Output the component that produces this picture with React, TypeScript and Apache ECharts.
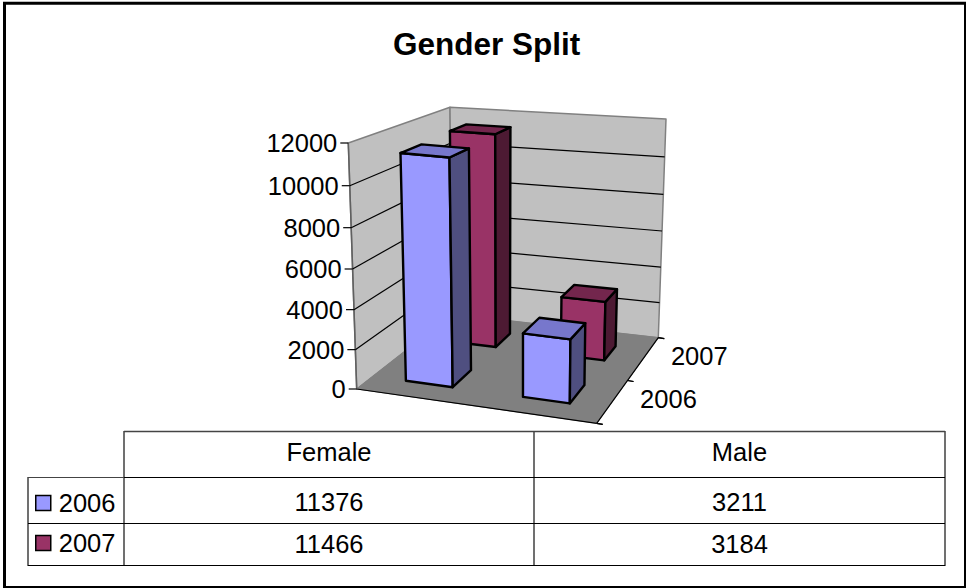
import React, { useEffect, useRef } from "react";
import * as echarts from "echarts";

const categories = ["Female", "Male"];
const years = ["2006", "2007"];
const values2006 = [11376, 3211];
const values2007 = [11466, 3184];
const axisTicks = [0, 2000, 4000, 6000, 8000, 10000, 12000];
const AXIS_MAX = 12000;

type Pt = [number, number];
const FLOOR = { fl: [356.7, 389] as Pt, fr: [596.7, 423.3] as Pt, bl: [452, 314.5] as Pt, br: [658.3, 337.7] as Pt };
const TOP = { fl: [348.3, 143] as Pt, fr: [600, 167] as Pt, bl: [450, 107.3] as Pt, br: [666, 119] as Pt };
const GRID = { left: 100, top: 100, width: 400, height: 240 };
const DEPTH: Record<string, [number, number]> = { "2006": [0.172, 0.39], "2007": [0.685, 0.855] };
const BAR_HALF = 0.1;
const U_SHIFT = -0.01;
const PERSPECTIVE = 1.05;

const COLORS: Record<string, { front: string; side: string; top: string }> = {
  "2006": { front: "#9999FF", side: "#4F4F80", top: "#7777CC" },
  "2007": { front: "#993366", side: "#4D1A33", top: "#73264D" },
};
const FONT = "'Liberation Sans', Arial, sans-serif";
const LABEL_FONT = `25.5px ${FONT}`;

const bil = (q: typeof FLOOR, u: number, v: number): Pt => [
  (1 - u) * (1 - v) * q.fl[0] + u * (1 - v) * q.fr[0] + (1 - u) * v * q.bl[0] + u * v * q.br[0],
  (1 - u) * (1 - v) * q.fl[1] + u * (1 - v) * q.fr[1] + (1 - u) * v * q.bl[1] + u * v * q.br[1],
];
const proj = (u: number, v: number, t: number): Pt => {
  const a = bil(FLOOR, u, v);
  const b = bil(TOP, u, v);
  return [a[0] + (b[0] - a[0]) * t, a[1] + (b[1] - a[1]) * t];
};
const fracOfValue = (api: any, val: number) => {
  const y = api.coord([0, val])[1];
  const t = (GRID.top + GRID.height - y) / GRID.height;
  return t / (t + (1 - t) * PERSPECTIVE);
};

const poly = (points: Pt[], fill: string, stroke: string, lineWidth: number) => ({
  type: "polygon",
  shape: { points },
  style: { fill, stroke, lineWidth, lineJoin: "round" },
});
const seg = (a: Pt, b: Pt, stroke: string, lineWidth: number) => ({
  type: "line",
  shape: { x1: a[0], y1: a[1], x2: b[0], y2: b[1] },
  style: { stroke, lineWidth },
});

const renderBar = (year: string) => (_: any, api: any) => {
  const idx = api.value(0);
  const c = api.coord([idx, 0])[0];
  const u = (c - GRID.left) / GRID.width + U_SHIFT;
  const t = fracOfValue(api, api.value(1));
  const [v0, v1] = DEPTH[year];
  const u0 = u - BAR_HALF;
  const u1 = u + BAR_HALF;
  const col = COLORS[year];
  const a = proj(u0, v0, 0), b = proj(u1, v0, 0), d = proj(u1, v1, 0);
  const e = proj(u0, v0, t), f = proj(u1, v0, t), g = proj(u1, v1, t), h = proj(u0, v1, t);
  return {
    type: "group",
    children: [
      poly([a, b, f, e], col.front, "#000", 2.4),
      poly([b, d, g, f], col.side, "#000", 2.4),
      poly([e, f, g, h], col.top, "#000", 2.4),
    ],
  };
};

const renderWalls = () => ({
  type: "group",
  children: [
    poly([FLOOR.fl, TOP.fl, TOP.bl, FLOOR.bl], "#C0C0C0", "#808080", 1.5),
    poly([FLOOR.bl, TOP.bl, TOP.br, FLOOR.br], "#C0C0C0", "#808080", 1.5),
    poly([FLOOR.fl, FLOOR.fr, FLOOR.br, FLOOR.bl], "#808080", "#808080", 1),
    seg(FLOOR.fl, FLOOR.fr, "#000", 1.2),
    seg(FLOOR.fr, FLOOR.br, "#000", 1.2),
    seg(FLOOR.fl, TOP.fl, "#606060", 1.5),
  ],
});

const renderTick = (_: any, api: any) => {
  const val = api.value(0);
  const t = fracOfValue(api, val);
  const a = proj(0, 0, t), b = proj(0, 1, t), c = proj(1, 1, t);
  const children: any[] = [
    seg([a[0] - 8, a[1]], a, "#000", 1.2),
    {
      type: "text",
      style: {
        x: a[0] - 11,
        y: a[1],
        text: String(val),
        align: "right",
        verticalAlign: "middle",
        font: LABEL_FONT,
        fill: "#000",
      },
    },
  ];
  if (val > 0 && val < AXIS_MAX) {
    children.unshift(seg(a, b, "#000", 1.2), seg(b, c, "#000", 1.2));
  }
  return { type: "group", children };
};

const renderDepth = (_: any, api: any) => {
  const i = api.value(0);
  const edges = [0, 0.5, 1];
  const children: any[] = edges.map((v) => {
    const p = proj(1, v, 0);
    return seg(p, [p[0] + 6, p[1] + 1], "#000", 1.2);
  });
  const p = proj(1, (i + 0.5) / years.length, 0);
  children.push({
    type: "text",
    style: {
      x: p[0] + 28,
      y: p[1] - 3,
      text: years[i],
      align: "left",
      verticalAlign: "middle",
      font: LABEL_FONT,
      fill: "#000",
    },
  });
  return { type: "group", children };
};

const TABLE = { x0: 28, x1: 124, x2: 534, x3: 945, y0: 431, y1: 477, y2: 523, y3: 565 };

const tableGraphics = () => {
  const { x0, x1, x2, x3, y0, y1, y2, y3 } = TABLE;
  const H = (xa: number, xb: number, y: number, stroke: string, w = 1) => ({
    type: "line",
    shape: { x1: xa, y1: y + 0.5, x2: xb, y2: y + 0.5 },
    style: { stroke, lineWidth: w },
  });
  const V = (x: number, ya: number, yb: number) => ({
    type: "line",
    shape: { x1: x, y1: ya, x2: x, y2: yb },
    style: { stroke: "#707070", lineWidth: 2 },
  });
  const T = (x: number, y: number, text: string) => ({
    type: "text",
    style: { x, y, text, align: "center", verticalAlign: "middle", font: LABEL_FONT, fill: "#000" },
  });
  const col = [(x1 + x2) / 2, (x2 + x3) / 2];
  const rowY = [502, 544];
  return [
    { type: "rect", shape: { x: 4.5, y: 3.3, width: 961, height: 584.2 }, style: { fill: "none", stroke: "#000", lineWidth: 3 } },
    V(x0, y1, y3 + 1),
    V(x1, y0, y3 + 1),
    V(x2, y0, y3 + 1),
    V(x3, y0, y3 + 1),
    H(x1, x3, y0, "#444", 1.5),
    H(x0, x1, y1, "#444"),
    H(x1, x3, y1, "#000"),
    H(x0, x3, y2, "#000"),
    H(x0, x3, y3, "#000"),
    ...categories.map((c, i) => T(col[i], 452, c)),
    ...values2006.map((v, i) => T(col[i], rowY[0], String(v))),
    ...values2007.map((v, i) => T(col[i], rowY[1], String(v))),
  ];
};

export default function App() {
  const ref = useRef<HTMLDivElement>(null);
  useEffect(() => {
    const chart = echarts.init(ref.current!, undefined, { renderer: "svg" });
    chart.setOption({
      animation: false,
      backgroundColor: "#fff",
      title: {
        text: "Gender Split",
        left: 388,
        top: 23,
        textStyle: { fontFamily: FONT, fontSize: 31.5, fontWeight: "bold", color: "#000" },
      },
      grid: GRID,
      xAxis: { type: "category", data: categories, show: false },
      yAxis: { type: "value", min: 0, max: AXIS_MAX, interval: 2000, show: false },
      legend: {
        orient: "vertical",
        left: 30,
        top: 485,
        itemWidth: 15,
        itemHeight: 15,
        itemGap: 14,
        selectedMode: false,
        data: years.map((y) => ({
          name: y,
          icon: "rect",
          itemStyle: { color: COLORS[y].front, borderColor: "#000", borderWidth: 1.5 },
        })),
        textStyle: { fontFamily: FONT, fontSize: 25.5, color: "#000", padding: [0, 0, 9, 3] },
      },
      graphic: tableGraphics(),
      series: [
        { type: "custom", name: "walls", z: 1, silent: true, coordinateSystem: "none", data: [[0]], renderItem: renderWalls },
        { type: "custom", name: "ticks", z: 2, silent: true, data: axisTicks.map((t) => [t]), encode: { y: 0 }, renderItem: renderTick },
        { type: "custom", name: "depth", z: 2, silent: true, coordinateSystem: "none", data: years.map((_, i) => [i]), renderItem: renderDepth },
        {
          type: "custom",
          name: "2007",
          z: 3,
          itemStyle: { color: COLORS["2007"].front },
          data: values2007.map((v, i) => [i, v]),
          encode: { x: 0, y: 1 },
          renderItem: renderBar("2007"),
        },
        {
          type: "custom",
          name: "2006",
          z: 4,
          itemStyle: { color: COLORS["2006"].front },
          data: values2006.map((v, i) => [i, v]),
          encode: { x: 0, y: 1 },
          renderItem: renderBar("2006"),
        },
      ],
    });
    return () => chart.dispose();
  }, []);
  return <div ref={ref} style={{ position: "absolute", left: 0, top: 0, width: 966, height: 588 }} />;
}
